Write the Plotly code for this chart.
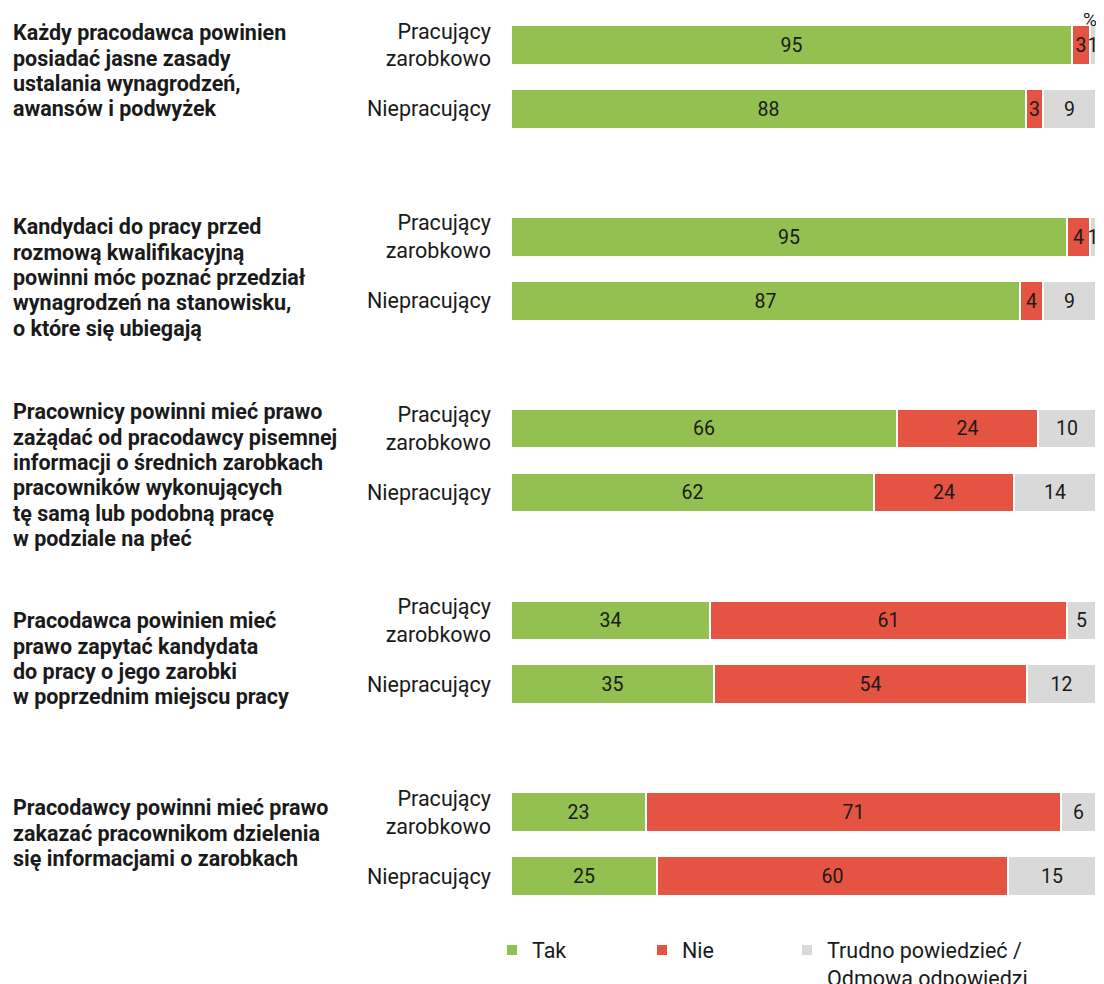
import plotly.graph_objects as go

questions = [
    ["Każdy pracodawca powinien", "posiadać jasne zasady", "ustalania wynagrodzeń,", "awansów i podwyżek"],
    ["Kandydaci do pracy przed", "rozmową kwalifikacyjną", "powinni móc poznać przedział",
     "wynagrodzeń na stanowisku,", "o które się ubiegają"],
    ["Pracownicy powinni mieć prawo", "zażądać od pracodawcy pisemnej", "informacji o średnich zarobkach",
     "pracowników wykonujących", "tę samą lub podobną pracę", "w podziale na płeć"],
    ["Pracodawca powinien mieć", "prawo zapytać kandydata", "do pracy o jego zarobki",
     "w poprzednim miejscu pracy"],
    ["Pracodawcy powinni mieć prawo", "zakazać pracownikom dzielenia", "się informacjami o zarobkach"],
]
groups = ["Pracujący<br>zarobkowo", "Niepracujący"]
series_names = ["Tak", "Nie", "Trudno powiedzieć /<br>Odmowa odpowiedzi"]
tak = [95, 88, 95, 87, 66, 62, 34, 35, 23, 25]
nie = [3, 3, 4, 4, 24, 24, 61, 54, 71, 60]
trudno = [1, 9, 1, 9, 10, 14, 5, 12, 6, 15]
colors = ["#93C050", "#E55343", "#D9D9D9"]
TXT = "#1a1a1a"

# row positions: two bars per question, one empty slot between questions
ypos = []
ticktext = []
for qi in range(len(questions)):
    for gi in range(len(groups)):
        ypos.append(qi * 3 + gi)
        ticktext.append(groups[gi])

PLOT_W = 585.0
legend_ids = ["legend", "legend2", "legend3"]
legend_px = [-19, 131, 276]          # legend left edge relative to plot left (px)
legend_x = [p / PLOT_W for p in legend_px]

fig = go.Figure()
for name, vals, col, lid in zip(series_names, [tak, nie, trudno], colors, legend_ids):
    fig.add_trace(go.Bar(
        x=vals, y=ypos, orientation="h", name=name, legend=lid, showlegend=True,
        marker=dict(color=col, line=dict(color="white", width=2)),
        width=0.62,
        text=[str(v) for v in vals], textposition="inside",
        insidetextanchor="middle", constraintext="none", cliponaxis=False,
        textfont=dict(size=19.5, color=TXT, family="Roboto"),
        hoverinfo="skip",
    ))

# layout constants (pixels)
PX_PER_UNIT = 895 / 14.0

# question labels, one annotation per line
first_line_px = [33, 227, 412, 621, 808]   # screen px of first line centre
LINE_STEP = 25.3
for lines, y0 in zip(questions, first_line_px):
    for li, line in enumerate(lines):
        ypx = y0 + li * LINE_STEP
        fig.add_annotation(
            text=line, xref="paper", yref="y", x=-500 / PLOT_W,
            y=(ypx - 45) / PX_PER_UNIT,
            xanchor="left", yanchor="middle", align="left", showarrow=False,
            font=dict(size=21.5, color=TXT, family="Roboto", weight="bold"),
        )

fig.add_annotation(
    text="%", xref="paper", yref="y", x=(1090 - 511) / PLOT_W, y=(20 - 45) / PX_PER_UNIT,
    xanchor="center", yanchor="middle", showarrow=False,
    font=dict(size=19, color=TXT, family="Roboto"),
)

legend_common = dict(
    orientation="h", y=-0.024, xanchor="left", yanchor="top",
    valign="top", font=dict(size=21.5, color=TXT), itemwidth=30,
    bgcolor="rgba(0,0,0,0)",
)

fig.update_layout(
    width=1088, height=976,
    showlegend=True,
    barmode="stack", barnorm="percent", bargap=0,
    plot_bgcolor="white", paper_bgcolor="white",
    margin=dict(l=503, r=0, t=5, b=76, autoexpand=False),
    font=dict(family="Roboto", size=21.5, color=TXT),
    xaxis=dict(range=[0, 100], visible=False, fixedrange=True),
    yaxis=dict(
        range=[13.5, -0.5], tickmode="array", tickvals=ypos, ticktext=ticktext,
        showgrid=False, zeroline=False, showline=False, ticks="",
        ticklabelstandoff=19, tickfont=dict(size=21.5, color=TXT),
        automargin=False,
    ),
    legend=dict(x=legend_x[0], **legend_common),
    legend2=dict(x=legend_x[1], **legend_common),
    legend3=dict(x=legend_x[2], **legend_common),
)

fig.write_html("out.html")
